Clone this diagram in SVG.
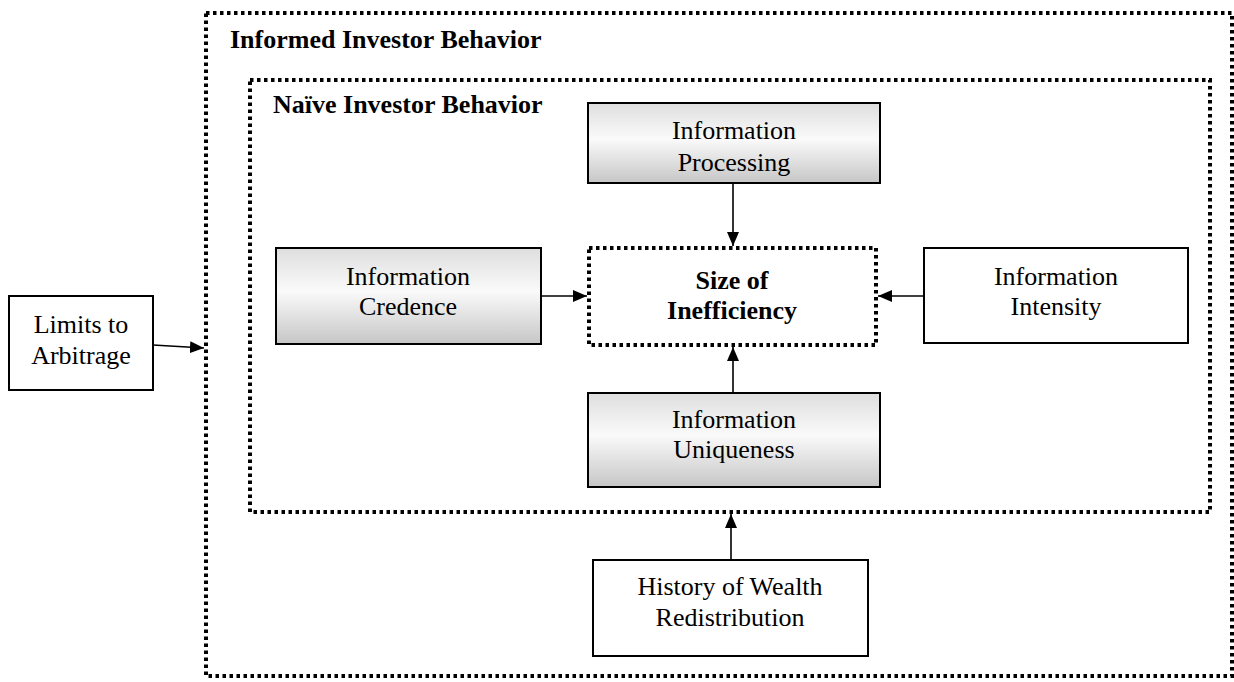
<svg xmlns="http://www.w3.org/2000/svg" width="1234" height="682" viewBox="0 0 1234 682">
  <defs>
    <linearGradient id="shade" x1="0" y1="0" x2="0" y2="1">
      <stop offset="0" stop-color="#dedede"/>
      <stop offset="0.45" stop-color="#fafafa"/>
      <stop offset="1" stop-color="#c6c6c6"/>
    </linearGradient>
    <marker id="arrow" viewBox="0 0 14 12" refX="14" refY="6" markerWidth="14" markerHeight="12" markerUnits="userSpaceOnUse" orient="auto">
      <path d="M0,0 L14,6 L0,12 Z" fill="#000"/>
    </marker>
  </defs>
  <style>
    .dotted { fill: none; stroke: #000; stroke-width: 4; stroke-dasharray: 3.5 3.5; }
    .box { fill: #fff; stroke: #000; stroke-width: 2; }
    .shaded { fill: url(#shade); stroke: #000; stroke-width: 2; }
    .lbl { font-family: "Liberation Serif", "Times New Roman", serif; font-size: 26px; fill: #000; text-anchor: middle; }
    .title { font-family: "Liberation Serif", "Times New Roman", serif; font-size: 26px; font-weight: bold; fill: #000; }
    .bold { font-weight: bold; }
    .link { stroke: #000; stroke-width: 1.6; fill: none; marker-end: url(#arrow); }
  </style>
  <rect width="1234" height="682" fill="#fff"/>

  <!-- outer grouping: informed investors -->
  <g id="informed">
    <rect class="dotted" x="206" y="13" width="1026" height="663"/>
    <text class="title" x="230" y="48">Informed Investor Behavior</text>
  </g>

  <!-- inner grouping: naive investors -->
  <g id="naive">
    <rect class="dotted" x="250" y="80" width="960" height="432"/>
    <text class="title" x="273" y="113">Naïve Investor Behavior</text>
  </g>

  <g id="processing">
    <rect class="shaded" x="588" y="103" width="292" height="80"/>
    <text class="lbl" x="734" y="139">Information</text>
    <text class="lbl" x="734" y="171">Processing</text>
  </g>

  <g id="credence">
    <rect class="shaded" x="276" y="248" width="265" height="96"/>
    <text class="lbl" x="408" y="285">Information</text>
    <text class="lbl" x="408" y="315">Credence</text>
  </g>

  <g id="inefficiency">
    <rect class="dotted" x="589" y="248" width="287" height="97"/>
    <text class="lbl bold" x="732" y="289">Size of</text>
    <text class="lbl bold" x="732" y="319">Inefficiency</text>
  </g>

  <g id="intensity">
    <rect class="box" x="924" y="248" width="264" height="95"/>
    <text class="lbl" x="1056" y="285">Information</text>
    <text class="lbl" x="1056" y="315">Intensity</text>
  </g>

  <g id="uniqueness">
    <rect class="shaded" x="588" y="393" width="292" height="94"/>
    <text class="lbl" x="734" y="428">Information</text>
    <text class="lbl" x="734" y="458">Uniqueness</text>
  </g>

  <g id="history">
    <rect class="box" x="593" y="560" width="275" height="96"/>
    <text class="lbl" x="730" y="595">History of Wealth</text>
    <text class="lbl" x="730" y="626">Redistribution</text>
  </g>

  <g id="limits">
    <rect class="box" x="9" y="296" width="144" height="94"/>
    <text class="lbl" x="81" y="333">Limits to</text>
    <text class="lbl" x="81" y="364">Arbitrage</text>
  </g>

  <g id="connectors">
    <line class="link" x1="733" y1="183" x2="733" y2="246"/>
    <line class="link" x1="541" y1="296" x2="587" y2="296"/>
    <line class="link" x1="924" y1="296" x2="878" y2="296"/>
    <line class="link" x1="733" y1="393" x2="733" y2="347"/>
    <line class="link" x1="731" y1="560" x2="731" y2="514"/>
    <line class="link" x1="153" y1="345" x2="204" y2="348"/>
  </g>
</svg>
